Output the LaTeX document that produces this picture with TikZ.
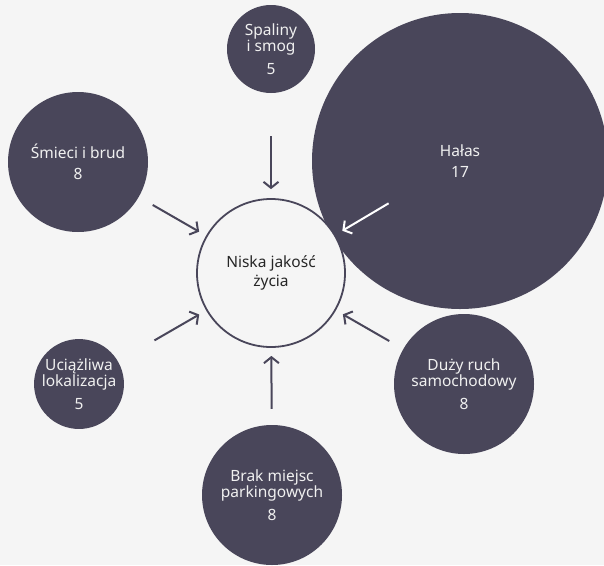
\documentclass[tikz,border=0pt]{standalone}
\usepackage{fontspec}
\setmainfont{Noto Sans}
\usetikzlibrary{arrows.meta}
\definecolor{bubblecol}{RGB}{73,70,90}
\definecolor{bgcol}{RGB}{245,245,245}
\tikzstyle{bubble} = [circle, inner sep=0pt, fill=bubblecol, text=white!94!black, align=center, font=\fontsize{15.5}{16.5}\selectfont]
\tikzstyle{core} = [circle, inner sep=0pt, minimum size=148pt, draw=bubblecol, line width=1.8pt, fill=bgcol, text=black!85, align=center, font=\fontsize{15.5}{19}\selectfont]
\tikzstyle{arrow} = [line width=2pt, draw=bubblecol, -{Straight Barb[length=6pt,width=15pt]}]

\begin{document}
\begin{tikzpicture}[x=1pt, y=-1pt]
\useasboundingbox[fill=bgcol] (0,0) rectangle (604,565);

\node (halas) [bubble, minimum size=296pt] at (460,161) {Hałas\\[5pt]17};

\node (center) [core] at (271,273) {Niska jakość\\życia};

\node (spaliny) [bubble, minimum size=88pt] at (271,49) {Spaliny\\i smog\\[6pt]5};

\node (smieci) [bubble, minimum size=140pt] at (78,162) {Śmieci i brud\\[5pt]8};

\node (lokalizacja) [bubble, minimum size=88pt] at (79,384) {Uciążliwa\\lokalizacja\\[6pt]5};

\node (ruch) [bubble, minimum size=140pt] at (464,384) {Duży ruch\\samochodowy\\[6pt]8};

\node (parking) [bubble, minimum size=140pt] at (272,495) {Brak miejsc\\parkingowych\\[6pt]8};

% Arrows
\draw [arrow, shorten <=43pt, shorten >=9pt] (spaliny) -- (center);
\draw [arrow, shorten <=16pt, shorten >=8pt] (smieci) -- (center);
\draw [arrow, shorten <=42pt, shorten >=8pt] (lokalizacja) -- (center);
\draw [arrow, shorten <=16pt, shorten >=8pt] (parking) -- (center);
\draw [arrow, shorten <=16pt, shorten >=8pt] (ruch) -- (center);
\draw [arrow, draw=white, shorten <=83pt, shorten >=8pt] (halas.center) -- (center);

\end{tikzpicture}
\end{document}
